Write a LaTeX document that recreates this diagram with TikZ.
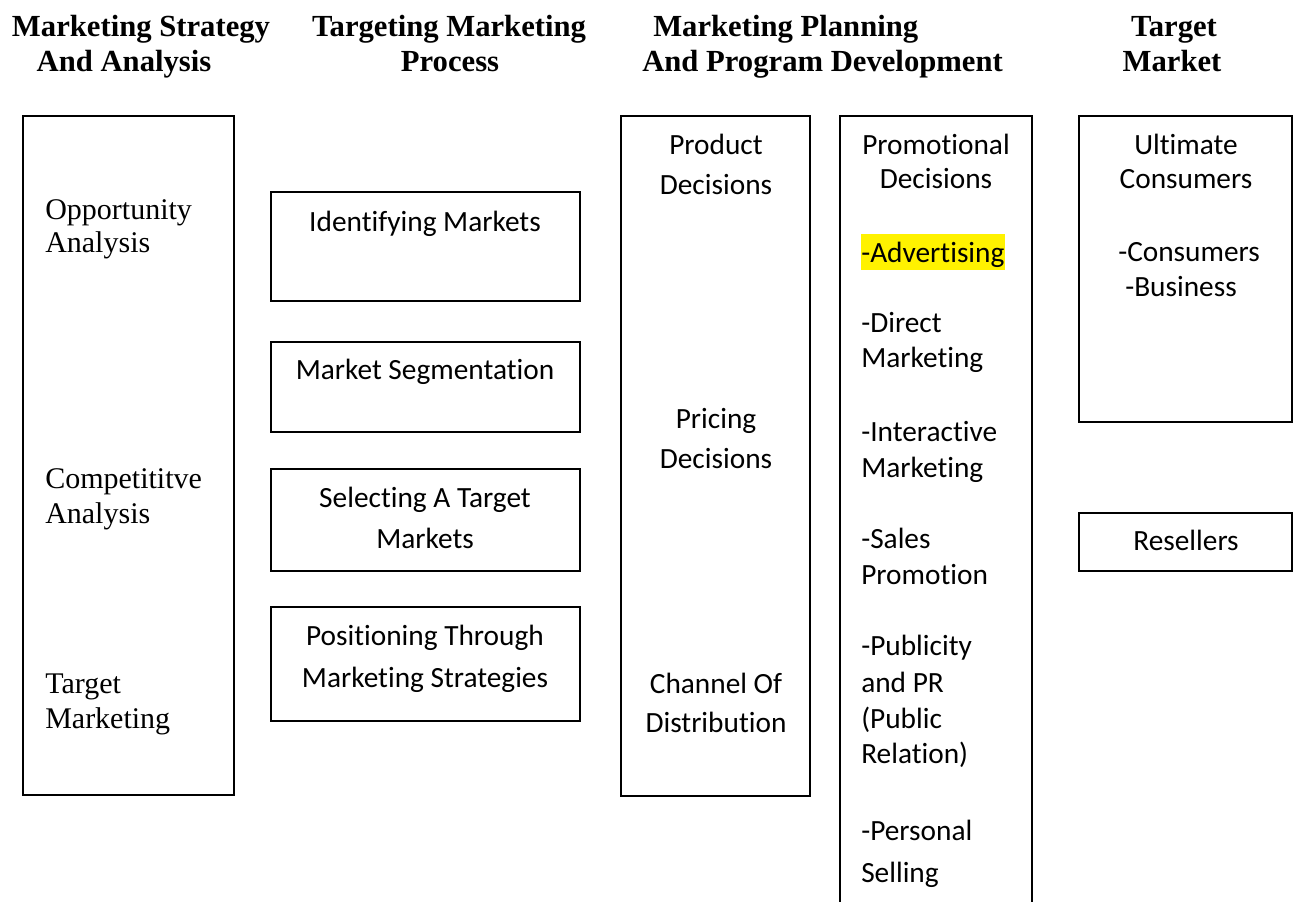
\documentclass[tikz,border=0pt]{standalone}
\usepackage{fontspec}
\setmainfont{Liberation Serif}
\newfontfamily\calibri[Ligatures=NoCommon]{Carlito}
\usepackage{tikz}
\usetikzlibrary{positioning}

\tikzset{
	caja/.style={draw=black,line width=1.2pt},
	titulo/.style={font=\fontsize{23}{27}\selectfont\bfseries,anchor=base,inner sep=0pt},
	romana/.style={font=\fontsize{22.5}{27}\selectfont,anchor=base west,inner sep=0pt},
	calib/.style={font=\calibri\fontsize{22}{26}\selectfont,anchor=base,inner sep=0pt},
}

\begin{document}
\begin{tikzpicture}[x=0.75pt,y=-0.75pt]
		
		% Ventana
		\useasboundingbox (0,0) rectangle (1293,902);
		
		% Titulos
		\node[titulo] (tA1) at (141,37) {Marketing Strategy};
		\node[titulo] (tA2) at (124,72) {And Analysis};
		\node[titulo] (tB1) at (449,37) {Targeting Marketing};
		\node[titulo] (tB2) at (450,72) {Process};
		\node[titulo,anchor=base west] (tC1) at (653,37) {Marketing Planning};
		\node[titulo,anchor=base west] (tC2) at (642,72) {And Program Development};
		\node[titulo] (tD1) at (1174,37) {Target};
		\node[titulo] (tD2) at (1172,72) {Market};
		
		% Cajas
		\draw[caja] (23,116) rectangle (234,795);
		\foreach \ya/\yb in {192/301,342/432,469/571,607/721}{
			\draw[caja] (271,\ya) rectangle (580,\yb);
		}
		\draw[caja] (621,116) rectangle (810,796);
		\draw[caja] (840,902) -- (840,116) -- (1032,116) -- (1032,902);
		\draw[caja] (1079,116) rectangle (1292,422);
		\draw[caja] (1079,513) rectangle (1292,571);
		
		% Estrategia y analisis
		\foreach \txt/\yy [count=\i] in {Opportunity/220,Analysis/253,Competititve/488,Analysis/523,Target/693,Marketing/728}{
			\node[romana] (est\i) at (45,\yy) {\txt};
		}
		
		% Proceso
		\foreach \txt/\yy [count=\i] in {Identifying Markets/232,Market Segmentation/380,Selecting A Target/507,Markets/548,Positioning Through/645,Marketing Strategies/687}{
			\node[calib] (proc\i) at (425,\yy) {\txt};
		}
		
		% Producto, precio, canal
		\foreach \txt/\yy [count=\i] in {Product/155,Decisions/195,Pricing/428,Decisions/468,Channel Of/693,Distribution/732}{
			\node[calib] (prod\i) at (716,\yy) {\txt};
		}
		
		% Promocion
		\fill[yellow] (861,234) rectangle (1005,270);
		\node[calib] (promA) at (936,155) {Promotional};
		\node[calib] (promB) at (936,189) {Decisions};
		\foreach \txt/\yy [count=\i] in {-Advertising/263,-Direct/333,Marketing/368,-Interactive/441,Marketing/477,-Sales/548,Promotion/584,-Publicity/655,and PR/692,{(Public}/728,{Relation)}/763,-Personal/840,Selling/882}{
			\node[calib,anchor=base west] (prom\i) at (861,\yy) {\txt};
		}
		
		% Mercado meta
		\node[calib] (ultA) at (1186,155) {Ultimate};
		\node[calib] (ultB) at (1186,189) {Consumers};
		\node[calib,anchor=base west] (ultC) at (1118,262) {-Consumers};
		\node[calib,anchor=base west] (ultD) at (1125,297) {-Business};
		\node[calib] (res) at (1186,550) {Resellers};
		
	\end{tikzpicture}
\end{document}
